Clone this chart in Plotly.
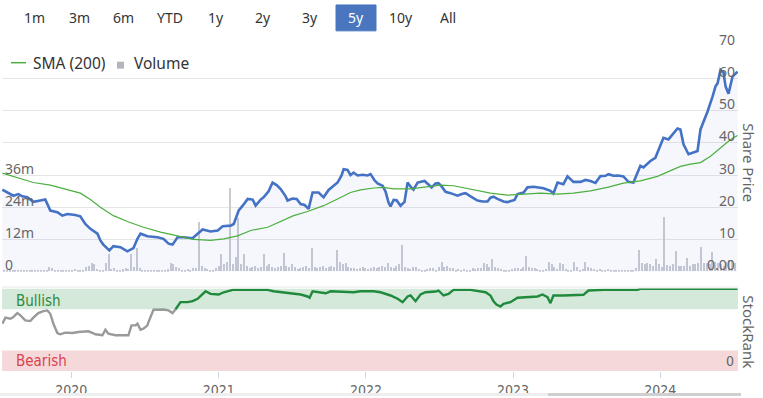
import numpy as np
import pandas as pd
import plotly.graph_objects as go

# ---------------- data ----------------
price_t = [2019.531, 2019.565, 2019.606, 2019.640, 2019.667, 2019.701, 2019.742, 2019.789, 2019.823, 2019.857,
           2019.905, 2019.939, 2019.973, 2020.027, 2020.061, 2020.095, 2020.129, 2020.177, 2020.197, 2020.217,
           2020.258, 2020.285, 2020.333, 2020.380, 2020.421, 2020.448, 2020.469, 2020.516, 2020.584, 2020.625,
           2020.659, 2020.686, 2020.720, 2020.761, 2020.822, 2020.856, 2020.890, 2020.944, 2020.992, 2021.026,
           2021.080, 2021.101, 2021.135, 2021.162, 2021.196, 2021.230, 2021.250, 2021.284, 2021.304, 2021.338,
           2021.365, 2021.393, 2021.420, 2021.454, 2021.467, 2021.501, 2021.529, 2021.556, 2021.583, 2021.610,
           2021.637, 2021.678, 2021.712, 2021.746, 2021.780, 2021.807, 2021.834, 2021.848, 2021.875, 2021.895,
           2021.916, 2021.943, 2021.977, 2022.011, 2022.031, 2022.058, 2022.079, 2022.113, 2022.133, 2022.154,
           2022.167, 2022.188, 2022.208, 2022.235, 2022.262, 2022.283, 2022.303, 2022.323, 2022.351, 2022.371,
           2022.398, 2022.425, 2022.446, 2022.473, 2022.493, 2022.514, 2022.541, 2022.575, 2022.622, 2022.656,
           2022.677, 2022.711, 2022.758, 2022.792, 2022.826, 2022.846, 2022.867, 2022.894, 2022.935, 2022.962,
           2022.989, 2023.010, 2023.030, 2023.071, 2023.098, 2023.139, 2023.207, 2023.254, 2023.274, 2023.302,
           2023.342, 2023.370, 2023.410, 2023.458, 2023.492, 2023.526, 2023.560, 2023.594, 2023.628, 2023.648,
           2023.682, 2023.716, 2023.750, 2023.784, 2023.818, 2023.865, 2023.886, 2023.933, 2023.967, 2023.988,
           2024.022, 2024.056, 2024.117, 2024.137, 2024.158, 2024.192, 2024.253, 2024.273, 2024.321, 2024.355,
           2024.375, 2024.389, 2024.409, 2024.429, 2024.443, 2024.463, 2024.490, 2024.524]
price_v = [25.5, 24.6, 23.6, 24.1, 23.4, 23.1, 21.7, 22.1, 22.4, 19.0,
           18.5, 17.4, 17.9, 17.6, 17.2, 14.8, 13.3, 11.8, 9.7, 8.4,
           6.6, 7.9, 7.6, 6.3, 7.3, 10.2, 11.8, 11.0, 10.7, 10.2,
           8.7, 8.4, 10.7, 10.7, 10.4, 11.8, 13.1, 12.5, 12.8, 14.1,
           14.3, 14.8, 19.0, 20.5, 22.6, 22.4, 20.5, 22.4, 23.1, 25.0,
           27.7, 26.9, 25.7, 23.4, 22.1, 22.7, 22.6, 21.0, 20.7, 19.5,
           24.6, 24.6, 23.1, 25.4, 26.7, 27.7, 29.9, 31.8, 31.6, 30.0,
           30.8, 29.9, 30.1, 29.9, 30.3, 28.4, 27.4, 26.7, 24.9, 21.4,
           20.3, 22.3, 22.2, 20.5, 21.7, 27.7, 26.4, 25.5, 27.7, 27.9,
           28.2, 27.1, 26.2, 27.4, 27.5, 26.5, 24.8, 24.4, 23.6, 24.2,
           24.4, 23.4, 22.1, 21.8, 21.8, 23.0, 23.3, 22.6, 21.8, 21.6,
           21.9, 22.3, 24.1, 24.6, 26.2, 26.4, 25.9, 25.1, 24.3, 27.7,
           27.2, 29.6, 27.9, 27.9, 28.5, 28.2, 27.6, 29.7, 29.8, 30.3,
           29.8, 29.9, 29.6, 27.9, 27.7, 32.9, 32.4, 34.4, 35.4, 38.0,
           41.6, 41.1, 44.5, 44.2, 39.6, 36.5, 37.5, 44.2, 49.8, 54.5,
           57.6, 58.6, 62.7, 61.9, 57.6, 55.3, 60.6, 62.2]

sma_t = [2019.531, 2019.742, 2019.857, 2019.973, 2020.061, 2020.129, 2020.197, 2020.285, 2020.380, 2020.489,
         2020.605, 2020.720, 2020.829, 2020.944, 2021.033, 2021.128, 2021.216, 2021.332, 2021.420, 2021.508,
         2021.603, 2021.712, 2021.807, 2021.895, 2021.963, 2022.052, 2022.120, 2022.188, 2022.303, 2022.418,
         2022.507, 2022.595, 2022.690, 2022.779, 2022.846, 2022.962, 2023.071, 2023.186, 2023.302, 2023.410,
         2023.526, 2023.641, 2023.750, 2023.865, 2023.981, 2024.069, 2024.137, 2024.205, 2024.273, 2024.341,
         2024.409, 2024.477, 2024.524]
sma_v = [30.6, 27.7, 26.9, 25.4, 24.4, 22.4, 20.0, 17.4, 15.6, 13.8,
         12.3, 11.1, 10.0, 9.7, 10.2, 11.1, 12.8, 13.8, 15.6, 17.4,
         18.7, 20.5, 22.6, 24.6, 25.4, 26.0, 26.2, 25.7, 25.7, 26.5,
         26.9, 26.7, 25.9, 25.1, 24.4, 23.8, 24.1, 24.4, 24.1, 24.4,
         25.1, 26.2, 27.5, 28.2, 29.6, 31.3, 32.7, 33.4, 33.9, 35.9,
         38.5, 41.1, 42.3]

# weekly volume, millions, first week 2019-07-12
volume_start = "2019-07-12"
volume_m = [0.3, 0.2, 0.4, 0.3, 0.2, 0.3, 0.5, 0.3, 0.2, 0.4, 0.3, 0.2, 0.3, 0.5, 0.3, 0.4, 0.3,
            1.5, 1.2, 0.5, 0.4, 0.3, 0.5, 0.4, 0.6, 0.5,
            0.8, 0.5, 0.4, 0.6, 1.5, 2.0, 3.0, 2.5,
            0.8, 0.5, 0.6, 3.0, 6.3, 0.8, 1.2,
            0.6, 0.5, 0.7, 1.0, 0.8, 6.3, 1.5, 8.8, 1.0, 0.6,
            0.4, 0.5, 0.6, 0.4, 0.5, 0.3, 0.6, 0.5, 0.7, 3.0,
            2.5, 1.5, 1.0, 0.6, 0.5, 0.8, 0.6, 1.0, 1.2,
            18.3, 2.0, 1.0, 0.8, 0.6, 0.5, 1.0, 2.0, 6.3, 2.5, 3.4, 31.0, 2.5, 5.3, 19.7, 2.5, 6.3, 2.0, 1.0,
            1.5, 2.0, 1.0, 1.5, 6.3, 2.0, 2.5, 1.5, 1.0, 1.5, 2.0,
            6.8, 2.0, 1.5, 2.5, 1.5, 0.8, 1.0, 1.5, 2.0, 1.0,
            8.8, 1.5, 1.0, 1.5, 2.0, 1.0, 1.5, 2.0, 1.5,
            7.8, 3.5, 2.5, 3.0, 1.5, 1.0, 1.2, 0.8, 1.0, 1.5,
            1.0, 0.8, 1.2, 1.5, 1.0, 1.5, 2.0, 1.5, 3.0, 1.5, 1.0, 2.0,
            2.5, 9.8, 1.5, 1.0, 0.8, 1.5, 1.5, 0.8, 0.6, 0.5, 0.8, 1.0, 1.0, 0.6, 1.5, 3.3, 1.5, 2.0, 1.0, 1.2,
            0.6, 0.8, 0.5, 0.8, 0.5, 0.6, 1.0, 0.8, 1.0, 1.2, 3.0, 2.5, 1.5, 4.4, 1.5, 1.0, 0.8, 0.6, 0.5, 0.6,
            0.8, 1.0, 1.0, 0.8, 1.5, 5.5, 1.5, 1.2, 1.0, 0.8, 0.6, 0.5, 0.8, 3.4, 2.5, 1.5, 0.8, 3.0, 2.5, 0.8,
            0.6, 0.5, 3.6, 1.5, 0.6, 0.8, 3.6, 1.5, 1.0, 0.8, 0.6, 0.8, 0.5, 0.6, 0.8, 0.6, 0.4, 0.3, 0.5, 0.6,
            0.4, 0.3, 0.6, 0.5, 1.0, 7.8, 3.0, 2.5, 3.0, 2.5, 2.0, 4.5, 2.5, 1.5, 20.3, 2.3, 2.0, 2.5, 7.5, 2.0,
            1.8, 2.0, 4.8, 2.0, 2.5, 2.5, 3.0, 9.2, 3.0, 3.0, 2.5, 7.0, 3.5, 3.0, 2.5, 2.0, 3.5, 4.0, 4.0, 3.0]

rank_grey_t = [2019.531, 2019.552, 2019.586, 2019.606, 2019.633, 2019.654, 2019.687, 2019.721, 2019.742, 2019.776,
               2019.810, 2019.837, 2019.857, 2019.878, 2019.905, 2019.925, 2019.959, 2020.007, 2020.048, 2020.115,
               2020.143, 2020.163, 2020.211, 2020.231, 2020.251, 2020.299, 2020.387, 2020.408, 2020.435, 2020.448,
               2020.469, 2020.489, 2020.516, 2020.523, 2020.557, 2020.591, 2020.625, 2020.659, 2020.686, 2020.707]
rank_grey_v = [57.4, 64.7, 63.5, 65.5, 70.3, 67.5, 61.4, 60.6, 64.7, 70.3,
               72.7, 73.5, 69.5, 57.4, 46.2, 44.6, 46.6, 46.2, 47.4, 48.2,
               46.2, 44.6, 43.4, 50.2, 45.4, 43.4, 43.4, 55.4, 55.4, 57.4,
               50.2, 51.4, 55.4, 59.4, 74.3, 74.3, 74.6, 73.5, 70.3, 75.0]
rank_green_t = [2020.707, 2020.740, 2020.788, 2020.822, 2020.856, 2020.890, 2020.910, 2020.944, 2020.999, 2021.033,
                2021.094, 2021.168, 2021.332, 2021.372, 2021.467, 2021.556, 2021.603, 2021.617, 2021.637, 2021.671,
                2021.726, 2021.760, 2021.827, 2021.916, 2021.963, 2022.052, 2022.099, 2022.167, 2022.215, 2022.249,
                2022.283, 2022.303, 2022.337, 2022.371, 2022.405, 2022.473, 2022.493, 2022.527, 2022.561, 2022.595,
                2022.711, 2022.813, 2022.846, 2022.867, 2022.887, 2022.914, 2022.935, 2022.962, 2022.982, 2023.030,
                2023.098, 2023.166, 2023.200, 2023.234, 2023.254, 2023.274, 2023.342, 2023.478, 2023.512, 2023.614,
                2023.845, 2023.865, 2024.524]
rank_green_v = [75.0, 83.5, 83.5, 84.7, 87.6, 93.6, 96.7, 93.6, 92.8, 95.5,
                98.4, 98.4, 98.4, 96.7, 94.3, 92.8, 90.4, 88.8, 96.7, 95.5,
                94.3, 96.7, 96.4, 95.5, 96.7, 96.7, 95.5, 91.6, 87.6, 83.5,
                90.4, 91.6, 84.7, 92.8, 95.5, 96.4, 97.6, 91.6, 93.6, 98.4,
                98.4, 95.5, 91.6, 84.7, 80.7, 78.3, 81.6, 82.3, 83.5, 88.8,
                89.5, 90.4, 92.8, 89.5, 82.3, 91.6, 91.6, 92.4, 97.6, 98.4,
                98.4, 99.6, 99.6]

price_ticks = [0, 10, 20, 30, 40, 50, 60, 70]
price_tick_text = ["0.00", "10", "20", "30", "40", "50", "60", "70"]
vol_grid = [0, 12, 24, 36, 48, 60, 72, 84]
vol_ticks = [0, 12, 24, 36]
vol_tick_text = ["0", "12m", "24m", "36m"]
year_ticks = ["2020-01-01", "2021-01-01", "2022-01-01", "2023-01-01", "2024-01-01"]
year_text = ["2020", "2021", "2022", "2023", "2024"]
buttons = ["1m", "3m", "6m", "YTD", "1y", "2y", "3y", "5y", "10y", "All"]
selected_button = "5y"
x_range = ["2019-07-13", "2024-07-12"]


def to_dates(ts):
    out = []
    for t in ts:
        y = int(np.floor(t))
        a = pd.Timestamp(year=y, month=1, day=1)
        b = pd.Timestamp(year=y + 1, month=1, day=1)
        out.append(a + (b - a) * (t - y))
    return out


vol_dates = pd.date_range(volume_start, periods=len(volume_m), freq="7D")

# ---------------- layout helpers ----------------
W, H = 763, 398


def px(x):
    return x / W


def py(y):
    return 1 - y / H


LEFT, RIGHT = 2, 738
FONT = "Noto Sans, Open Sans, DejaVu Sans, sans-serif"
NARROW = "Liberation Sans Narrow, DejaVu Sans Condensed, Roboto, sans-serif"
GREY_TXT = "#666666"

fig = go.Figure()

# volume bars (base axis y)
fig.add_trace(go.Bar(x=vol_dates, y=volume_m, xaxis="x", yaxis="y",
                     marker=dict(color="#c9cbd3", line=dict(width=0)),
                     width=3.6 * 86400000, showlegend=False, hoverinfo="skip"))
# price (overlay y2)
fig.add_trace(go.Scatter(x=to_dates(price_t), y=price_v, xaxis="x", yaxis="y2", mode="lines",
                         line=dict(color="#4472c4", width=2.6), fill="tozeroy",
                         fillcolor="rgba(70,110,200,0.055)", showlegend=False))
fig.add_trace(go.Scatter(x=to_dates(sma_t), y=sma_v, xaxis="x", yaxis="y2", mode="lines",
                         line=dict(color="#4caf3f", width=1.2), showlegend=False))
# stockrank
fig.add_trace(go.Scatter(x=to_dates(rank_grey_t), y=rank_grey_v, xaxis="x2", yaxis="y3", mode="lines",
                         line=dict(color="#9a9a9a", width=2.4), showlegend=False))
fig.add_trace(go.Scatter(x=to_dates(rank_green_t), y=rank_green_v, xaxis="x2", yaxis="y3", mode="lines",
                         line=dict(color="#1f8a3b", width=2.4), showlegend=False))

dom_x = [px(LEFT), px(RIGHT)]
fig.update_layout(
    width=W, height=H, margin=dict(l=0, r=0, t=0, b=0),
    paper_bgcolor="white", plot_bgcolor="rgba(0,0,0,0)",
    showlegend=False, bargap=0,
    xaxis=dict(domain=dom_x, anchor="y", range=x_range, type="date",
               showticklabels=False, showgrid=False, zeroline=False, showline=False, ticks=""),
    yaxis=dict(domain=[py(273), py(46.7)], range=[0, 84], side="left",
               tickvals=vol_grid, showticklabels=False,
               showgrid=True, gridcolor="#e6e6e6", gridwidth=1, zeroline=False, showline=False),
    yaxis2=dict(overlaying="y", range=[0, 70], side="right", anchor="x",
                tickvals=price_ticks, showticklabels=False,
                showgrid=False, zeroline=False, showline=False),
    xaxis2=dict(domain=dom_x, anchor="y3", range=x_range, type="date",
                tickvals=year_ticks, ticktext=year_text, ticks="outside", ticklen=6,
                tickcolor="#ccd6eb", tickfont=dict(family=NARROW, size=14, color=GREY_TXT),
                showgrid=False, zeroline=False, showline=False),
    yaxis3=dict(domain=[py(373), py(290)], range=[0, 100], side="right", anchor="x2",
                tickvals=[0], showticklabels=False,
                showgrid=False, zeroline=False, showline=False),
)

shapes = []
# stockrank bands
shapes.append(dict(type="rect", xref="paper", yref="y3", x0=px(LEFT), x1=px(RIGHT), y0=75, y1=100,
                   fillcolor="#d4e9d9", line=dict(width=0), layer="below"))
shapes.append(dict(type="rect", xref="paper", yref="y3", x0=px(LEFT), x1=px(RIGHT), y0=0, y1=25,
                   fillcolor="#f5d8da", line=dict(width=0), layer="below"))
shapes.append(dict(type="line", xref="paper", yref="paper", x0=px(LEFT), x1=px(RIGHT),
                   y0=py(288.5), y1=py(288.5), line=dict(color="#e6e6e6", width=1)))
# selected button
shapes.append(dict(type="rect", xref="paper", yref="paper", x0=px(336), x1=px(376), y0=py(31), y1=py(5),
                   fillcolor="#4a76bf", line=dict(color="#4a76bf", width=1)))
# legend symbols
shapes.append(dict(type="line", xref="paper", yref="paper", x0=px(11), x1=px(26), y0=py(63), y1=py(63),
                   line=dict(color="#4caf3f", width=1.5)))
shapes.append(dict(type="rect", xref="paper", yref="paper", x0=px(117), x1=px(124), y0=py(69), y1=py(62),
                   fillcolor="#b4b6be", line=dict(width=0)))
# navigator scrollbar
shapes.append(dict(type="rect", xref="paper", yref="paper", x0=0, x1=px(741), y0=py(398), y1=py(395),
                   fillcolor="#eeeeee", line=dict(width=0)))
shapes.append(dict(type="rect", xref="paper", yref="paper", x0=px(548), x1=px(741), y0=py(398), y1=py(395),
                   fillcolor="#cfcfcf", line=dict(width=0)))
fig.update_layout(shapes=shapes)

ann = []
btn_x = [34, 79, 124, 170, 216, 263, 310, 356, 401, 448]
for b, bx in zip(buttons, btn_x):
    ann.append(dict(text=b, xref="paper", yref="paper", x=px(bx), y=py(18), xanchor="center", yanchor="middle",
                    showarrow=False,
                    font=dict(family=FONT, size=14, color="white" if b == selected_button else "#333333")))
# tick labels (sit just above their grid lines)
for v, t in zip(price_ticks, price_tick_text):
    ann.append(dict(text=t, xref="paper", yref="y2", x=px(RIGHT - 1), y=v, xanchor="right", yanchor="middle",
                    yshift=7, showarrow=False, font=dict(family=FONT, size=14, color=GREY_TXT)))
for v, t in zip(vol_ticks, vol_tick_text):
    ann.append(dict(text=t, xref="paper", yref="y", x=px(LEFT + 1), y=v, xanchor="left", yanchor="middle",
                    yshift=7, showarrow=False, font=dict(family=FONT, size=14, color=GREY_TXT)))
ann.append(dict(text="0", xref="paper", yref="y3", x=px(RIGHT - 2), y=0, xanchor="right", yanchor="middle",
                yshift=10, showarrow=False, font=dict(family=NARROW, size=14, color=GREY_TXT)))
ann.append(dict(text="SMA (200)", xref="paper", yref="paper", x=px(31), y=py(63), xanchor="left",
                yanchor="middle", showarrow=False, font=dict(family=FONT, size=15.5, color="#333333")))
ann.append(dict(text="Volume", xref="paper", yref="paper", x=px(132), y=py(63), xanchor="left",
                yanchor="middle", showarrow=False, font=dict(family=FONT, size=15.5, color="#333333")))
ann.append(dict(text="Share Price", xref="paper", yref="paper", x=px(749), y=py(163), xanchor="center",
                yanchor="middle", textangle=90, showarrow=False,
                font=dict(family=FONT, size=15, color=GREY_TXT)))
ann.append(dict(text="StockRank", xref="paper", yref="paper", x=px(749), y=py(333), xanchor="center",
                yanchor="middle", textangle=90, showarrow=False,
                font=dict(family=FONT, size=15, color=GREY_TXT)))
ann.append(dict(text="Bullish", xref="paper", yref="y3", x=px(14), y=85.5, xanchor="left", yanchor="middle",
                showarrow=False, font=dict(family=NARROW, size=15, color="#2f8a3c")))
ann.append(dict(text="Bearish", xref="paper", yref="y3", x=px(14), y=12.5, xanchor="left", yanchor="middle",
                showarrow=False, font=dict(family=NARROW, size=15, color="#d9434f")))
fig.update_layout(annotations=ann)

fig.write_html("out.html", config={"displayModeBar": False},
               post_script="document.body.style.margin='0px';document.documentElement.style.margin='0px';")
